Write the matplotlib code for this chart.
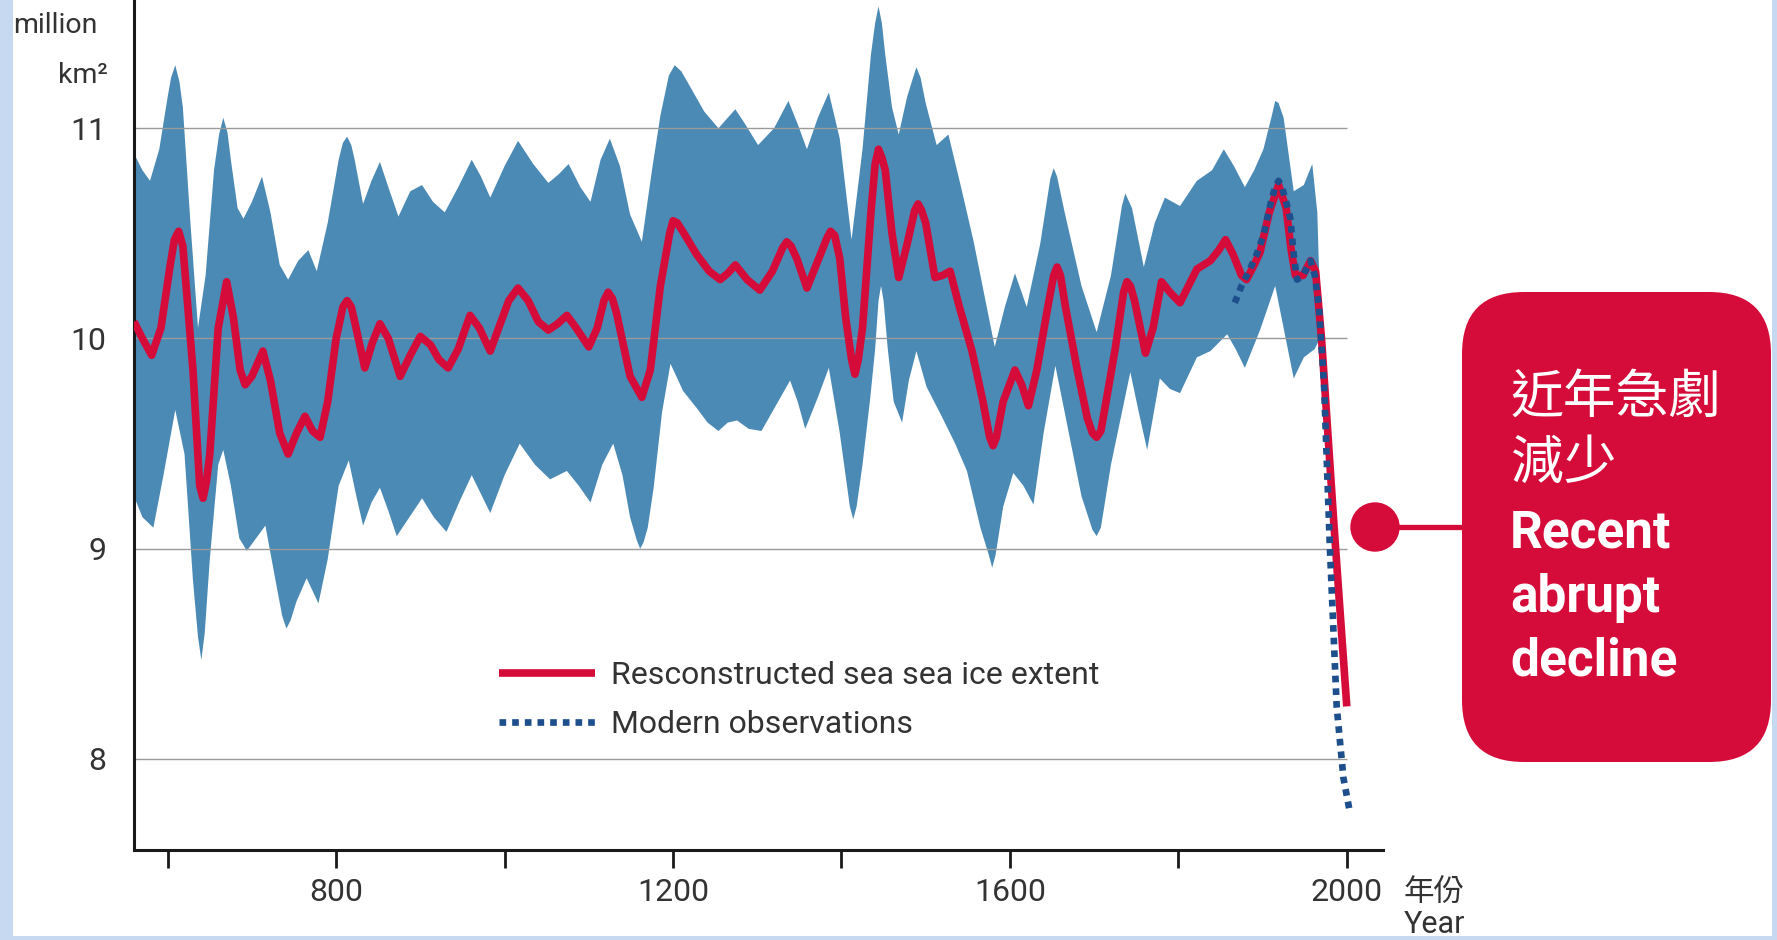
"""
Arctic sea ice extent reconstruction (560-2000) with uncertainty band,
modern observations and a "recent abrupt decline" callout.

Output:
- out.png
"""

import matplotlib.pyplot as plt
import numpy as np
from matplotlib.patches import Circle, FancyBboxPatch, Rectangle

# ---- data (million km2) ----
recon_years = [
    560, 570, 581, 592, 603, 608, 613, 618, 630, 638, 642, 646, 650, 660, 670, 678,
    686, 692, 700, 713, 722, 733, 743, 753, 763, 772, 781, 790, 800, 808, 813, 818,
    822, 834, 843, 852, 862, 876, 888, 900, 912, 922, 933, 945, 959, 970, 983, 993,
    1005, 1016, 1028, 1040, 1052, 1063, 1074, 1085, 1100, 1110, 1118, 1123, 1128,
    1133, 1149, 1163, 1173, 1185, 1196, 1200, 1205, 1213, 1228, 1243, 1256, 1265,
    1274, 1288, 1303, 1318, 1330, 1335, 1340, 1347, 1359, 1373, 1383, 1387, 1392,
    1398, 1405, 1412, 1416, 1420, 1425, 1435, 1440, 1444, 1448, 1452, 1460, 1468,
    1478, 1487, 1491, 1495, 1500, 1511, 1520, 1529, 1540, 1555, 1568, 1576, 1580,
    1584, 1592, 1606, 1614, 1622, 1632, 1645, 1652, 1656, 1660, 1666, 1680, 1692,
    1698, 1703, 1708, 1712, 1725, 1735, 1739, 1743, 1748, 1761, 1770, 1780, 1790,
    1802, 1812, 1822, 1838, 1848, 1856, 1865, 1875, 1881, 1890, 1897, 1908, 1919,
    1928, 1934, 1939, 1948, 1957, 1963, 1970, 1985, 2000,
]
recon_extent = [
    10.08, 10.00, 9.92, 10.05, 10.35, 10.47, 10.51, 10.44, 9.85, 9.30, 9.24, 9.32,
    9.45, 10.05, 10.27, 10.10, 9.85, 9.78, 9.82, 9.94, 9.80, 9.55, 9.45, 9.55, 9.63,
    9.56, 9.53, 9.70, 10.00, 10.15, 10.18, 10.15, 10.08, 9.86, 9.98, 10.07, 10.00,
    9.82, 9.92, 10.01, 9.97, 9.90, 9.86, 9.95, 10.11, 10.05, 9.94, 10.05, 10.18,
    10.24, 10.18, 10.08, 10.04, 10.07, 10.11, 10.05, 9.96, 10.05, 10.18, 10.22,
    10.19, 10.12, 9.82, 9.72, 9.85, 10.25, 10.50, 10.56, 10.55, 10.50, 10.40, 10.32,
    10.28, 10.31, 10.35, 10.28, 10.23, 10.32, 10.43, 10.46, 10.44, 10.38, 10.24,
    10.38, 10.48, 10.51, 10.49, 10.38, 10.10, 9.90, 9.83, 9.90, 10.05, 10.60, 10.83,
    10.90, 10.86, 10.80, 10.50, 10.29, 10.45, 10.61, 10.64, 10.61, 10.55, 10.29,
    10.30, 10.32, 10.15, 9.94, 9.70, 9.53, 9.49, 9.53, 9.70, 9.85, 9.78, 9.68, 9.85,
    10.15, 10.30, 10.34, 10.30, 10.15, 9.85, 9.62, 9.55, 9.53, 9.56, 9.65, 9.95,
    10.22, 10.27, 10.25, 10.18, 9.93, 10.05, 10.27, 10.22, 10.17, 10.25, 10.33,
    10.37, 10.42, 10.47, 10.40, 10.30, 10.28, 10.35, 10.41, 10.60, 10.73, 10.62,
    10.42, 10.30, 10.30, 10.37, 10.32, 10.00, 9.10, 8.25,
]

upper_years = [
    560, 570, 579, 590, 600, 604, 609, 614, 618, 627, 636, 645, 655, 661, 666, 671,
    675, 683, 690, 700, 712, 722, 733, 743, 755, 767, 777, 790, 803, 808, 813, 818,
    822, 832, 842, 852, 862, 874, 888, 902, 915, 929, 945, 961, 972, 983, 1000, 1016,
    1034, 1052, 1064, 1076, 1090, 1102, 1114, 1125, 1137, 1149, 1163, 1175, 1185,
    1195, 1202, 1210, 1220, 1237, 1254, 1265, 1274, 1284, 1301, 1320, 1337, 1348,
    1359, 1372, 1385, 1398, 1412, 1425, 1435, 1440, 1444, 1448, 1452, 1460, 1468,
    1478, 1485, 1489, 1494, 1500, 1513, 1527, 1542, 1557, 1570, 1582, 1594, 1606,
    1620, 1636, 1648, 1652, 1656, 1665, 1685, 1703, 1720, 1733, 1737, 1745, 1759,
    1772, 1784, 1802, 1822, 1840, 1854, 1866, 1879, 1890, 1901, 1911, 1915, 1919,
    1925, 1937, 1949, 1959, 1965, 1968,
]
upper_extent = [
    10.88, 10.80, 10.75, 10.90, 11.15, 11.24, 11.30, 11.22, 11.10, 10.55, 10.05,
    10.30, 10.80, 10.97, 11.05, 10.98, 10.85, 10.62, 10.57, 10.65, 10.77, 10.60,
    10.35, 10.28, 10.37, 10.42, 10.32, 10.55, 10.85, 10.93, 10.96, 10.92, 10.85,
    10.64, 10.75, 10.84, 10.72, 10.58, 10.70, 10.73, 10.65, 10.60, 10.72, 10.85,
    10.77, 10.67, 10.82, 10.94, 10.83, 10.74, 10.78, 10.83, 10.72, 10.65, 10.85,
    10.95, 10.82, 10.59, 10.46, 10.80, 11.06, 11.25, 11.30, 11.27, 11.20, 11.08,
    11.00, 11.05, 11.09, 11.03, 10.92, 11.00, 11.13, 11.02, 10.90, 11.05, 11.17,
    10.95, 10.47, 10.90, 11.35, 11.50, 11.58, 11.50, 11.35, 11.10, 10.97, 11.15,
    11.24, 11.29, 11.24, 11.12, 10.92, 10.97, 10.72, 10.46, 10.20, 9.96, 10.15,
    10.31, 10.15, 10.45, 10.76, 10.81, 10.77, 10.60, 10.25, 10.03, 10.30, 10.63,
    10.69, 10.62, 10.34, 10.55, 10.67, 10.63, 10.75, 10.80, 10.90, 10.82, 10.72,
    10.80, 10.90, 11.06, 11.13, 11.12, 11.05, 10.70, 10.73, 10.83, 10.60, 10.20,
]

lower_years = [
    560, 570, 583, 595, 609, 620, 630, 636, 640, 644, 650, 660, 666, 675, 685, 694,
    705, 716, 728, 736, 741, 746, 753, 765, 772, 779, 790, 803, 815, 824, 832, 842,
    852, 862, 872, 887, 902, 916, 931, 946, 961, 972, 983, 1000, 1018, 1036, 1054,
    1064, 1074, 1088, 1102, 1116, 1129, 1140, 1149, 1157, 1161, 1165, 1170, 1177,
    1187, 1197, 1212, 1228, 1241, 1254, 1265, 1276, 1290, 1305, 1322, 1339, 1348,
    1357, 1372, 1385, 1398, 1410, 1414, 1418, 1425, 1434, 1440, 1444, 1447, 1450,
    1455, 1462, 1472, 1480, 1489, 1501, 1519, 1535, 1549, 1565, 1575, 1579, 1583,
    1592, 1604, 1616, 1628, 1640, 1654, 1665, 1685, 1698, 1703, 1708, 1720, 1743,
    1753, 1763, 1778, 1790, 1802, 1822, 1838, 1858, 1868, 1879, 1897, 1915, 1925,
    1937, 1949, 1962, 1968,
]
lower_extent = [
    9.25, 9.15, 9.10, 9.35, 9.66, 9.45, 8.85, 8.58, 8.47, 8.60, 8.95, 9.40, 9.47,
    9.30, 9.05, 8.99, 9.05, 9.11, 8.85, 8.68, 8.62, 8.66, 8.75, 8.86, 8.80, 8.74,
    8.95, 9.30, 9.42, 9.25, 9.11, 9.22, 9.29, 9.18, 9.06, 9.15, 9.24, 9.15, 9.08,
    9.22, 9.35, 9.26, 9.17, 9.35, 9.50, 9.40, 9.33, 9.35, 9.37, 9.30, 9.22, 9.40,
    9.50, 9.35, 9.15, 9.04, 9.00, 9.03, 9.10, 9.29, 9.65, 9.88, 9.75, 9.67, 9.60,
    9.56, 9.60, 9.61, 9.57, 9.56, 9.68, 9.80, 9.70, 9.57, 9.72, 9.86, 9.55, 9.20,
    9.14, 9.20, 9.40, 9.71, 9.95, 10.18, 10.25, 10.18, 9.95, 9.70, 9.60, 9.80,
    9.94, 9.77, 9.63, 9.50, 9.37, 9.10, 8.97, 8.91, 8.97, 9.20, 9.36, 9.30, 9.21,
    9.55, 9.87, 9.65, 9.25, 9.09, 9.06, 9.10, 9.40, 9.84, 9.65, 9.47, 9.81, 9.76,
    9.74, 9.91, 9.94, 10.02, 9.95, 9.86, 10.04, 10.25, 10.05, 9.81, 9.91, 9.95,
    10.00,
]

obs_years = [
    1867, 1875, 1885, 1893, 1901, 1910, 1915, 1919, 1923, 1928, 1933, 1937, 1941,
    1948, 1957, 1962, 1967, 1973, 1980, 1988, 1996, 2004,
]
obs_extent = [
    10.17, 10.25, 10.33, 10.40, 10.49, 10.65, 10.72, 10.75, 10.72, 10.65, 10.57,
    10.40, 10.28, 10.30, 10.37, 10.30, 10.15, 9.78, 9.00, 8.25, 7.91, 7.74,
]

y_ticks = [8, 9, 10, 11]
x_major_ticks = [800, 1200, 1600, 2000]
x_minor_ticks = [600, 1000, 1400, 1800]

recon_label = "Resconstructed sea sea ice extent"
obs_label = "Modern observations"
callout_zh = ["近年急劇", "減少"]
callout_en = ["Recent", "abrupt", "decline"]

# ---- styling ----
W, H = 1777, 940
RED = "#d50b3a"
BAND = "#4a8ab4"
OBS = "#1d4f8c"
TEXT = "#333333"
FRAME = "#c6d9f0"
CJK = ["Noto Sans CJK TC", "DejaVu Sans"]

plt.rcParams["font.family"] = ["Roboto", "DejaVu Sans"]


def draw_main(fig):
    ax = fig.add_axes([134 / W, 1 - 850 / H, (1383 - 134) / W, 850 / H])

    band_x = np.concatenate([upper_years, lower_years[::-1]])
    band_y = np.concatenate([upper_extent, lower_extent[::-1]])
    ax.fill(band_x, band_y, color=BAND, lw=0, zorder=1)

    ax.hlines(y_ticks, 560, 2000, color="#9a9a9a", lw=1.0, zorder=2)

    ax.plot(recon_years, recon_extent, color=RED, lw=5.5, solid_joinstyle="round",
            solid_capstyle="butt", zorder=3, label=recon_label)
    ax.plot(obs_years, obs_extent, color=OBS, lw=4.8, dashes=(1.0, 0.9),
            dash_capstyle="butt", zorder=4, label=obs_label)

    ax.set_xlim(560, 2043)
    ax.set_ylim(7.567, 11.61)

    for side in ("top", "right"):
        ax.spines[side].set_visible(False)
    for side in ("left", "bottom"):
        ax.spines[side].set_linewidth(2.2)
        ax.spines[side].set_color("#1a1a1a")

    ax.set_xticks(x_major_ticks)
    ax.set_xticks(x_minor_ticks, minor=True)
    ax.tick_params(axis="x", which="both", direction="out", length=13, width=2,
                   color="#1a1a1a", pad=7, labelsize=23, labelcolor=TEXT)
    ax.set_yticks(y_ticks)
    ax.tick_params(axis="y", length=0, pad=20, labelsize=23, labelcolor=TEXT)

    ax.legend(loc="upper left", bbox_to_anchor=(499 / W, 1 - 661 / H),
              bbox_transform=fig.transFigure, frameon=False, fontsize=23,
              labelcolor=TEXT, handlelength=3.0, handletextpad=0.5,
              labelspacing=0.62, borderpad=0, borderaxespad=0)
    return ax


def draw_overlay(fig):
    # pixel-space layer for annotations and the page frame
    ov = fig.add_axes([0, 0, 1, 1])
    ov.set_xlim(0, W)
    ov.set_ylim(H, 0)
    ov.axis("off")

    ov.text(13, 33, "million", fontsize=20.5, color=TEXT, va="baseline")
    ov.text(108, 83, "km²", fontsize=20.5, color=TEXT, ha="right", va="baseline")
    ov.text(1404, 893, "年份", fontsize=22, color=TEXT, va="center", family=CJK)
    ov.text(1404, 933, "Year", fontsize=22, color=TEXT, va="baseline")

    ov.add_patch(FancyBboxPatch((1462, 292), 1771 - 1462, 762 - 292,
                                boxstyle="round,pad=0,rounding_size=62",
                                fc=RED, ec="none"))
    ov.plot([1375, 1462], [527, 527], color=RED, lw=3.8, solid_capstyle="butt")
    ov.add_patch(Circle((1375, 527), 24, color=RED))

    for line, base in zip(callout_zh, [413, 479]):
        ov.text(1511, base, line, fontsize=38, color="white", va="baseline", family=CJK)
    for line, base in zip(callout_en, [547, 612, 676]):
        ov.text(1510, base, line, fontsize=37, color="white", weight="bold", va="baseline")

    for x, y, w, h in [(0, 0, 13, H), (0, 936, W, 4), (1772, 0, 5, H)]:
        ov.add_patch(Rectangle((x, y), w, h, color=FRAME, lw=0))


def main():
    fig = plt.figure(figsize=(W / 100, H / 100), dpi=100)
    draw_main(fig)
    draw_overlay(fig)
    fig.savefig("out.png", dpi=100)
    plt.close(fig)


if __name__ == "__main__":
    main()
